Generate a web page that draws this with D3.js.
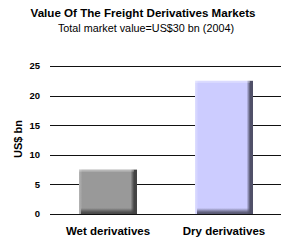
<!DOCTYPE html>
<html>
<head>
<meta charset="utf-8">
<script src="https://cdn.jsdelivr.net/npm/d3@7"></script>
<style>
  html, body { margin: 0; padding: 0; background: #fff; }
  svg { display: block; font-family: "Liberation Sans", Arial, sans-serif; }
</style>
</head>
<body>
<script>
const categories = ['Wet derivatives', 'Dry derivatives'];
const values = [7.5, 22.5];
const yTicks = [0, 5, 10, 15, 20, 25];
const title = 'Value Of The Freight Derivatives Markets';
const subtitle = 'Total market value=US$30 bn (2004)';
const yTitle = 'US$ bn';

const width = 293, height = 246;

// bar colours: main, light edge, dark edge
const shades = [
  { main: '#999999', light: '#b4b4b4', dark: '#444444' },
  { main: '#ccccff', light: '#dedeff', dark: '#505068' },
];

const svg = d3.select('body').append('svg')
  .attr('width', width)
  .attr('height', height);

svg.append('rect').attr('width', width).attr('height', height).attr('fill', '#fff');

const x = d3.scaleBand()
  .domain(categories)
  .range([50, 282])
  .paddingInner(0.5)
  .paddingOuter(0.25);

const y = d3.scaleLinear()
  .domain([0, 25])
  .range([214, 66]);

// titles
svg.append('text')
  .attr('x', 143).attr('y', 17)
  .attr('text-anchor', 'middle')
  .attr('font-size', 11.6).attr('font-weight', 'bold')
  .text(title);

svg.append('text')
  .attr('x', 146).attr('y', 32)
  .attr('text-anchor', 'middle')
  .attr('font-size', 10.8)
  .text(subtitle);

// grid lines
svg.append('g')
  .selectAll('line')
  .data(yTicks)
  .join('line')
  .attr('x1', 50).attr('x2', 281)
  .attr('y1', d => Math.round(y(d)) + 0.5)
  .attr('y2', d => Math.round(y(d)) + 0.5)
  .attr('stroke', '#111')
  .attr('stroke-width', 1);

// y axis labels
svg.append('g')
  .selectAll('text')
  .data(yTicks)
  .join('text')
  .attr('x', 40)
  .attr('y', d => y(d))
  .attr('dy', '0.35em')
  .attr('text-anchor', 'end')
  .attr('font-size', 9.5).attr('font-weight', 'bold')
  .text(d => d);

svg.append('text')
  .attr('transform', 'translate(22,139) rotate(-90)')
  .attr('text-anchor', 'middle')
  .attr('font-size', 11).attr('font-weight', 'bold')
  .text(yTitle);

// gradients for the bevelled bars
const defs = svg.append('defs');
shades.forEach((s, i) => {
  const h = defs.append('linearGradient').attr('id', 'h' + i)
    .attr('x1', 0).attr('x2', 1).attr('y1', 0).attr('y2', 0);
  h.append('stop').attr('offset', 0).attr('stop-color', s.light);
  h.append('stop').attr('offset', 0.06).attr('stop-color', s.main);
  h.append('stop').attr('offset', 0.89).attr('stop-color', s.main);
  h.append('stop').attr('offset', 0.95).attr('stop-color', s.dark);
  h.append('stop').attr('offset', 1).attr('stop-color', s.dark);

  const b = defs.append('linearGradient').attr('id', 'b' + i)
    .attr('x1', 0).attr('x2', 0).attr('y1', 0).attr('y2', 1);
  b.append('stop').attr('offset', 0).attr('stop-color', s.dark).attr('stop-opacity', 0);
  b.append('stop').attr('offset', 0.7).attr('stop-color', s.dark).attr('stop-opacity', 0.85);
  b.append('stop').attr('offset', 1).attr('stop-color', s.dark).attr('stop-opacity', 0.95);
});

const bars = svg.append('g')
  .selectAll('g')
  .data(values)
  .join('g');

bars.append('rect')
  .attr('x', (d, i) => x(categories[i]))
  .attr('y', d => y(d))
  .attr('width', x.bandwidth())
  .attr('height', d => y(0) - y(d))
  .attr('fill', (d, i) => `url(#h${i})`);

// light top edge
bars.append('rect')
  .attr('x', (d, i) => x(categories[i]))
  .attr('y', d => y(d))
  .attr('width', x.bandwidth() - 3)
  .attr('height', 2)
  .attr('fill', '#fff').attr('opacity', 0.3);

// dark bottom band
bars.append('rect')
  .attr('x', (d, i) => x(categories[i]) + 2)
  .attr('y', y(0) - 6)
  .attr('width', x.bandwidth() - 2)
  .attr('height', 6)
  .attr('fill', (d, i) => `url(#b${i})`);

// category labels
svg.append('g')
  .selectAll('text')
  .data(categories)
  .join('text')
  .attr('x', d => x(d) + x.bandwidth() / 2)
  .attr('y', 235)
  .attr('text-anchor', 'middle')
  .attr('font-size', 11.5).attr('font-weight', 'bold')
  .text(d => d);
</script>
</body>
</html>
